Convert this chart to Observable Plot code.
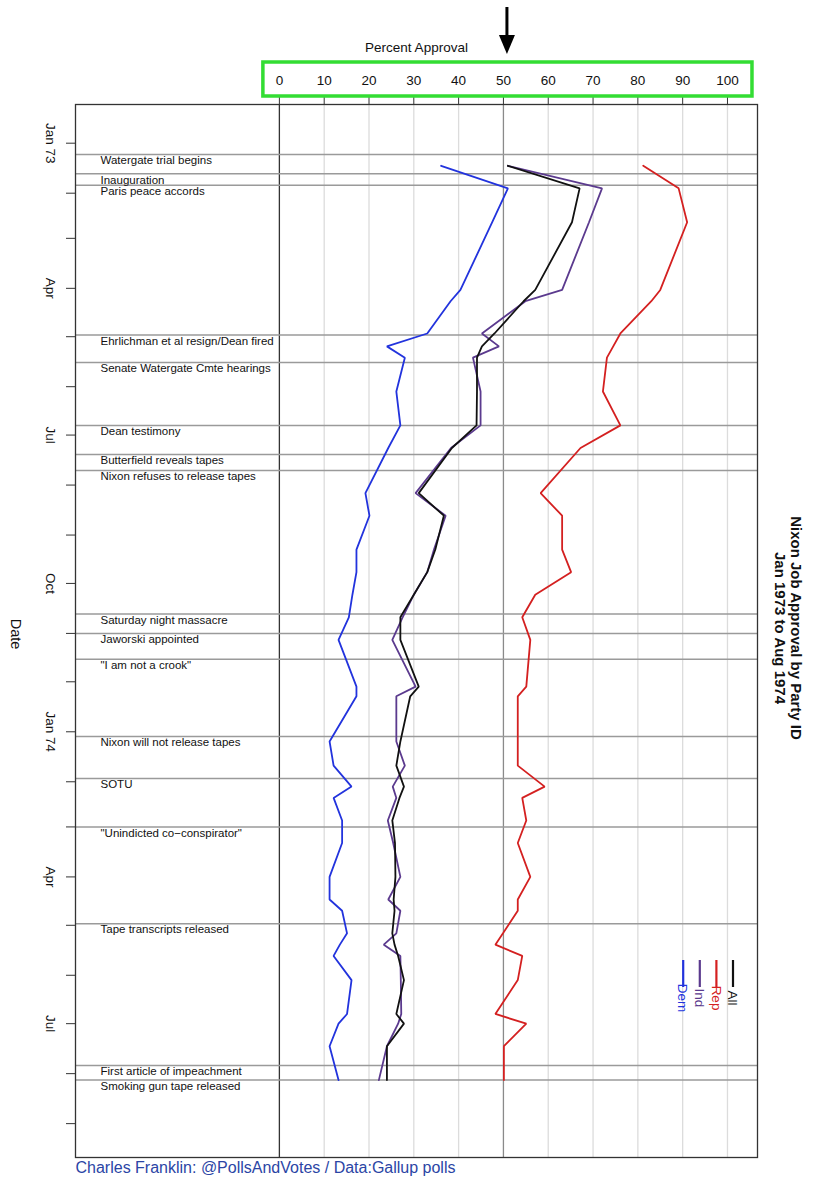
<!DOCTYPE html>
<html>
<head>
<meta charset="utf-8">
<script src="https://cdn.jsdelivr.net/npm/d3@7"></script>
<script src="https://cdn.jsdelivr.net/npm/@observablehq/plot@0.6"></script>
<style>
  html, body { margin: 0; padding: 0; background: #fff; }
  #chart { width: 819px; height: 1200px; }
</style>
</head>
<body>
<div id="chart"></div>
<script>
// Gallup poll field dates (approximate mid-points)
const pollDates = [
  "1973-01-15","1973-01-29","1973-02-19","1973-04-02","1973-04-09","1973-04-29",
  "1973-05-07","1973-05-14","1973-06-04","1973-06-25","1973-07-09","1973-08-06",
  "1973-08-20","1973-09-10","1973-09-24","1973-10-08","1973-10-22","1973-11-05",
  "1973-12-04","1973-12-10","1974-01-07","1974-01-22","1974-02-04","1974-02-11",
  "1974-02-25","1974-03-11","1974-04-01","1974-04-15","1974-04-22","1974-05-06",
  "1974-05-13","1974-05-20","1974-06-04","1974-06-25","1974-07-01","1974-07-15",
  "1974-08-05"
];

// Percent approving of Nixon's job, by party identification
const dem = [36.1,51.0,47.5,40.4,38.2,33.0,24.0,28.0,26.1,27.0,24.3,19.2,
             20.1,17.2,17.2,16.3,15.5,13.2,17.2,17.2,11.2,12.1,16.1,12.1,
             14.0,14.0,11.2,11.2,14.0,15.1,13.5,12.1,16.1,15.1,13.2,11.2,13.2];
const ind = [51.0,72.0,69.1,63.1,54.9,45.2,49.0,43.2,44.9,44.9,38.3,30.4,
             37.1,34.5,33.0,30.0,27.5,25.2,30.4,26.1,26.1,28.0,25.3,26.1,
             24.2,25.4,27.0,24.3,27.0,26.1,23.3,27.0,27.1,27.2,26.5,24.0,22.2];
const rep = [81.2,89.1,91.0,85.0,83.0,76.1,74.5,73.1,72.2,76.1,67.2,58.3,
             63.1,63.1,65.1,57.1,54.2,56.0,55.1,53.2,53.2,53.2,59.2,54.2,
             55.1,53.2,56.0,53.2,53.2,49.9,48.2,54.2,53.2,48.2,55.1,50.1,50.1];
const all = [51.0,67.0,65.3,57.1,54.5,48.0,45.2,44.1,44.1,44.0,38.5,31.1,
             36.7,34.8,33.0,30.0,27.0,27.0,31.1,29.2,27.0,26.1,27.8,26.8,
             25.2,25.8,25.9,25.5,25.7,25.2,25.7,26.5,27.8,26.1,27.8,24.0,24.0];

const seriesNames  = ["Dem", "Ind", "Rep", "All"];
const seriesColors = ["#2233dd", "#5b3a8e", "#d42020", "#111111"];

// Watergate events
const eventDates = [
  "1973-01-08","1973-01-20","1973-01-27","1973-04-30","1973-05-17","1973-06-25",
  "1973-07-13","1973-07-23","1973-10-20","1973-11-01","1973-11-17","1974-01-04",
  "1974-01-30","1974-03-01","1974-04-30","1974-07-27","1974-08-05"
];
const eventLabels = [
  "Watergate trial begins","Inauguration","Paris peace accords",
  "Ehrlichman et al resign/Dean fired","Senate Watergate Cmte hearings",
  "Dean testimony","Butterfield reveals tapes","Nixon refuses to release tapes",
  "Saturday night massacre","Jaworski appointed","\"I am not a crook\"",
  "Nixon will not release tapes","SOTU","\"Unindicted co\u2212conspirator\"",
  "Tape transcripts released","First article of impeachment",
  "Smoking gun tape released"
];

const xTicks = [0, 10, 20, 30, 40, 50, 60, 70, 80, 90, 100];

const parse = d3.utcParse("%Y-%m-%d");
const values = {Dem: dem, Ind: ind, Rep: rep, All: all};
const polls = seriesNames.map(name =>
  pollDates.map((d, i) => ({series: name, date: parse(d), value: values[name][i]}))
);
const events = eventDates.map((d, i) => ({date: parse(d), label: eventLabels[i]}));
const monthTicks = d3.utcMonths(parse("1973-01-01"), parse("1974-09-02"));
const quarterTicks = monthTicks.filter(d => d.getUTCMonth() % 3 === 0);
const fmtQuarter = d => d.getUTCMonth() === 0 ? d3.utcFormat("%b %y")(d) : d3.utcFormat("%b")(d);

const font = "'Liberation Sans', Arial, Helvetica, sans-serif";

const chart = Plot.plot({
  width: 819,
  height: 1200,
  marginTop: 104,
  marginLeft: 75,
  marginRight: 62,
  marginBottom: 43,
  style: {fontFamily: font, fontSize: "13.5px", background: "#fff", color: "#111"},
  x: {domain: [-45.5, 106.7], axis: null},
  y: {type: "utc", domain: [parse("1972-12-08"), parse("1974-09-22")], reverse: true, axis: null},
  marks: [
    // vertical grid
    Plot.ruleX(xTicks.filter(v => v > 0 && v !== 50), {stroke: "#dcdcdc", strokeWidth: 1.3}),
    Plot.ruleX([50], {stroke: "#8a8a8a", strokeWidth: 1.3}),
    Plot.ruleX([0], {stroke: "#333", strokeWidth: 1.3}),
    // events
    Plot.ruleY(events, {y: "date", stroke: "#9a9a9a", strokeWidth: 1.5}),
    Plot.text(events, {y: "date", text: "label", frameAnchor: "left", dx: 25, dy: 1.5,
      textAnchor: "start", lineAnchor: "top", fontSize: 11.5, fill: "#111"}),
    // approval lines
    ...polls.map((data, i) => Plot.line(data, {x: "value", y: "date",
      stroke: seriesColors[i], strokeWidth: 1.8, strokeLinejoin: "miter"})),
    Plot.frame({stroke: "#333", strokeWidth: 1.3}),
    // top axis
    Plot.axisX(xTicks, {anchor: "top", tickSize: 8, tickPadding: 12, label: null,
      fontSize: 13.5, stroke: "#333"}),
    Plot.text(["Percent Approval"], {frameAnchor: "top", dy: -62, fontSize: 13.5}),
    // left time axis
    Plot.axisY(monthTicks, {anchor: "left", tickSize: 9, tickFormat: () => "", label: null, stroke: "#333"}),
    Plot.text(quarterTicks, {y: d => d, text: fmtQuarter, frameAnchor: "left", dx: -25,
      rotate: 90, textAnchor: "middle", fontSize: 13.5}),
    Plot.text(["Date"], {frameAnchor: "left", dx: -60, dy: 3, rotate: 90,
      textAnchor: "middle", fontSize: 14.5}),
    // title on the right
    Plot.text(["Nixon Job Approval by Party ID\nJan 1973 to Aug 1974"], {frameAnchor: "right",
      dx: 31, dy: -3, rotate: 90, textAnchor: "middle", fontWeight: "bold", fontSize: 15,
      lineHeight: 1.07}),
    // source
    Plot.text(["Charles Franklin: @PollsAndVotes / Data:Gallup polls"], {frameAnchor: "bottom-left",
      dy: 15, textAnchor: "start", fontSize: 16, fill: "#2b45a5"})
  ]
});

document.getElementById("chart").appendChild(chart);

// annotations: legend, highlight box around the approval scale, pointer arrow
const svg = d3.select(chart);
const xs = chart.scale("x");
const frameRight = 819 - 62;

const legend = svg.append("g").attr("font-family", font).attr("font-size", 13.5);
seriesNames.forEach((name, i) => {
  const lx = frameRight - 24 - (seriesNames.length - 1 - i) * 16.6;
  legend.append("line")
    .attr("x1", lx).attr("x2", lx).attr("y1", 960).attr("y2", 987)
    .attr("stroke", seriesColors[i]).attr("stroke-width", 2.2);
  legend.append("text")
    .attr("transform", `translate(${lx},998) rotate(90)`)
    .attr("dy", "0.35em")
    .attr("fill", seriesColors[i])
    .text(name);
});

const boxLeft = xs.apply(0) - 16;
const boxRight = xs.apply(100) + 25;
svg.append("rect")
  .attr("x", boxLeft).attr("y", 62)
  .attr("width", boxRight - boxLeft).attr("height", 34)
  .attr("fill", "none").attr("stroke", "#33dd33").attr("stroke-width", 3.5);

const ax = xs.apply(50) + 4;
svg.append("line")
  .attr("x1", ax).attr("x2", ax).attr("y1", 7).attr("y2", 40)
  .attr("stroke", "#000").attr("stroke-width", 3);
svg.append("path")
  .attr("d", `M${ax - 8},35 L${ax + 8},35 L${ax},54 Z`)
  .attr("fill", "#000");
</script>
</body>
</html>
